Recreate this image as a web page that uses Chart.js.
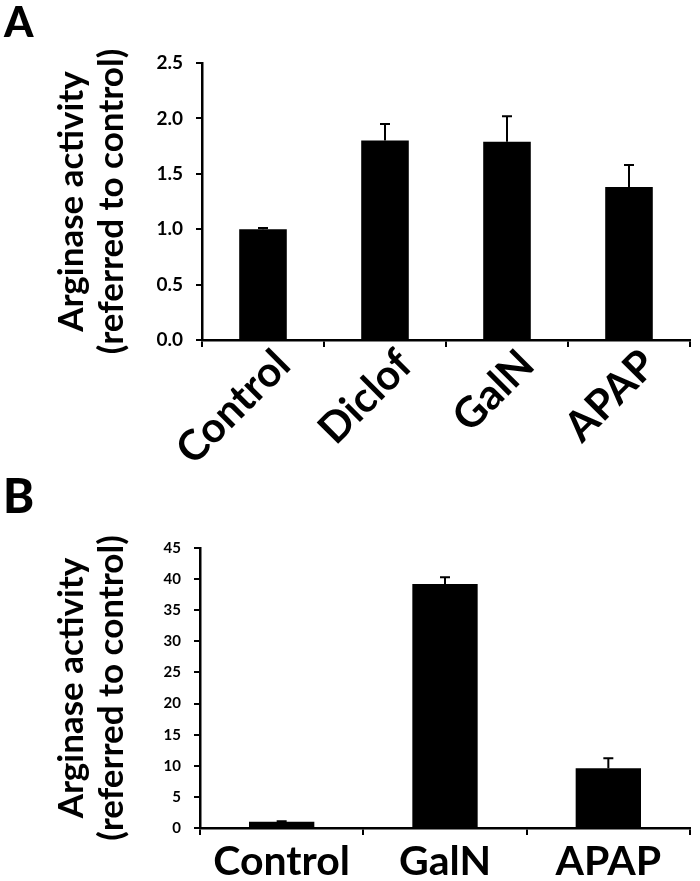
<!DOCTYPE html>
<html>
<head>
<meta charset="utf-8">
<script src="https://cdn.jsdelivr.net/npm/chart.js@4.4.1/dist/chart.umd.min.js"></script>
<style>
  html, body { margin:0; padding:0; background:#fff; }
  body { width:700px; height:881px; position:relative; overflow:hidden; font-family: Lato, "Open Sans", sans-serif; }
  .panel { position:absolute; left:0; width:700px; }
  #wrapA { top:0; height:470px; }
  #wrapB { top:450px; height:431px; }
  .letter { position:absolute; font-family: Lato, sans-serif; font-weight:900; color:#000; line-height:1; }
  #letA { left:4px; top:0px; font-size:42px; }
  #letB { left:3px; top:472px; font-size:47px; }
</style>
</head>
<body>
<div class="panel" id="wrapA"><canvas id="chartA" width="700" height="470"></canvas></div>
<div class="panel" id="wrapB"><canvas id="chartB" width="700" height="431"></canvas></div>
<div class="letter" id="letA">A</div>
<div class="letter" id="letB">B</div>
<script>
// ---- Data ----
const categoriesA = ['Control', 'Diclof', 'GalN', 'APAP'];
const valuesA = [1.0, 1.80, 1.79, 1.38];
const errorsA = [0.01, 0.15, 0.23, 0.20];
const ticksA = [0.0, 0.5, 1.0, 1.5, 2.0, 2.5];

const categoriesB = ['Control', 'GalN', 'APAP'];
const valuesB = [1.0, 39.2, 9.6];
const errorsB = [0.1, 1.1, 1.6];
const ticksB = [0, 5, 10, 15, 20, 25, 30, 35, 40, 45];

const yTitle = ['Arginase activity', '(referred to control)'];
const FONT = 'Lato, "Open Sans", sans-serif';

const errorBars = {
  id: 'errorBars',
  afterDatasetsDraw(chart) {
    const errs = chart.options.plugins.errorBars.errors;
    const meta = chart.getDatasetMeta(0);
    const ys = chart.scales.y;
    const vals = chart.data.datasets[0].data;
    const ctx = chart.ctx;
    ctx.save();
    ctx.strokeStyle = '#000';
    ctx.lineWidth = 2;
    meta.data.forEach((bar, i) => {
      const yTop = ys.getPixelForValue(vals[i] + errs[i]);
      ctx.beginPath();
      ctx.moveTo(bar.x, bar.y);
      ctx.lineTo(bar.x, yTop);
      ctx.moveTo(bar.x - 5, yTop);
      ctx.lineTo(bar.x + 5, yTop);
      ctx.stroke();
    });
    ctx.restore();
  }
};

function makeChart(id, cats, vals, errs, ticks, cfg) {
  return new Chart(document.getElementById(id), {
    type: 'bar',
    data: {
      labels: cats,
      datasets: [{
        data: vals,
        backgroundColor: '#000',
        borderColor: '#000',
        borderWidth: 0,
        barPercentage: cfg.barPct,
        categoryPercentage: 1.0
      }]
    },
    options: {
      responsive: false,
      animation: false,
      devicePixelRatio: 1,
      layout: { padding: { top: cfg.top, right: 10, bottom: 0, left: 0 } },
      plugins: {
        legend: { display: false },
        tooltip: { enabled: false },
        errorBars: { errors: errs }
      },
      scales: {
        x: {
          afterFit(s) { s.height = cfg.xHeight; },
          grid: { display: true, drawOnChartArea: false, drawTicks: true, tickLength: 7, color: '#000', lineWidth: 2, offset: true },
          border: { display: true, color: '#000', width: 2.5 },
          ticks: {
            color: '#000',
            font: { family: FONT, weight: 'bold', size: cfg.xFont },
            minRotation: cfg.rot, maxRotation: cfg.rot,
            labelOffset: cfg.labelOffset,
            padding: cfg.xPad,
            autoSkip: false
          }
        },
        y: {
          min: ticks[0], max: ticks[ticks.length - 1],
          afterFit(s) { s.width = cfg.yWidth; },
          afterBuildTicks(s) { s.ticks = ticks.map(v => ({ value: v })); },
          grid: { display: true, drawOnChartArea: false, drawTicks: true, tickLength: 6, color: '#000', lineWidth: 2 },
          border: { display: true, color: '#000', width: 2.5 },
          ticks: {
            color: '#000',
            font: { family: FONT, weight: 'bold', size: cfg.yFont },
            padding: cfg.yPad,
            callback: (v) => cfg.dec ? Number(v).toFixed(1) : String(v)
          },
          title: {
            display: true,
            text: yTitle,
            color: '#000',
            font: { family: FONT, weight: 'bold', size: cfg.titleFont, lineHeight: '40px' },
            padding: { top: 52, bottom: 0 }
          }
        }
      }
    },
    plugins: [errorBars]
  });
}

makeChart('chartA', categoriesA, valuesA, errorsA, ticksA, {
  top: 63, xHeight: 130, yWidth: 202, barPct: 0.39,
  xFont: 42, rot: 45, labelOffset: 20, xPad: -7,
  yFont: 19, yPad: 13, titleFont: 35, dec: true
});
makeChart('chartB', categoriesB, valuesB, errorsB, ticksB, {
  top: 98, xHeight: 53, yWidth: 200, barPct: 0.40,
  xFont: 41, rot: 0, labelOffset: 0, xPad: 2,
  yFont: 15, yPad: 13, titleFont: 35, dec: false
});
</script>
</body>
</html>
